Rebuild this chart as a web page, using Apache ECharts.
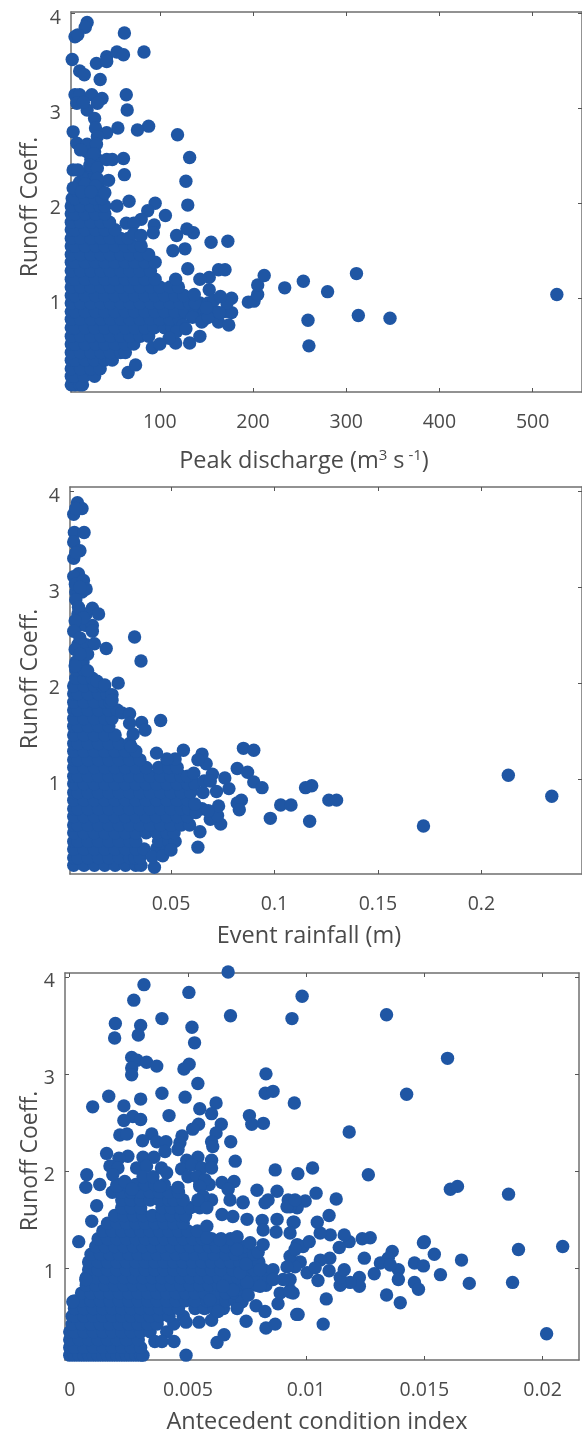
<!DOCTYPE html>
<html><head><meta charset="utf-8">
<style>html,body{margin:0;padding:0;background:#fff}#c{width:582px;height:1431px}</style>
<script src="https://cdn.jsdelivr.net/npm/echarts@6/dist/echarts.min.js"></script>
</head><body><div id="c"></div>
<script>
// Values. Dense cores as [runoff, [x...]] rows, sparse points as [x, runoff].
const peakRows = [
[.09,[5,9,14,17]],[.18,[5,8,19,30]],[.26,[5,15,26,36]],[.35,[5,9,20,30,41,49]],[.43,[5,15,26,37,47,58,63]],
[.52,[5,9,20,31,41,52,63,72]],[.60,[5,15,26,37,47,58,68,79,88]],[.69,[5,9,20,30,41,52,63,73,84,94,105,113]],
[.78,[5,15,26,37,47,58,68,79,90,100,111,121]],[.86,[5,9,20,31,41,52,63,73,84,95,105,116,127,138,148,160,170]],
[.95,[5,15,26,37,47,58,68,79,90,100,111,122,132,143,152]],[1.03,[5,9,20,31,41,52,63,73,84,95,105,116,126]],
[1.12,[5,15,26,37,47,58,68,79,90,100,111,120]],[1.20,[5,9,20,31,41,52,63,73,84,95]],
[1.29,[5,15,26,37,47,58,68,79,90]],[1.38,[5,9,20,31,41,52,63,73,84,95]],[1.46,[5,15,26,37,47,58,68,79,88]],
[1.55,[5,9,20,31,41,52,63,72,80]],[1.63,[5,15,26,37,47,58,66]],[1.72,[5,9,20,31,41,52]],[1.80,[5,15,26,37,46]],
[1.89,[5,9,20,31,41]],[1.97,[5,15,26,36,41]],[2.05,[6,9,20,30,38]],[2.14,[9,20,31,36]],[2.22,[14,25,34]],[2.30,[20,30]],[2.38,[25,32]],[2.46,[26,33]],[2.54,[22,30]]
];
const peakPoints = [
[66,.22],[74,.3],[92,.48],[117,.53],[132,.53],[143,.6],[163,.75],[174,.72],[177,.85],[177,1.0],[195,.96],[201,.97],[205,1.04],[205,1.14],[212,1.24],
[234,1.11],[254,1.18],[280,1.07],[259,.77],[260,.5],[311,1.26],[313,.82],[347,.79],[526,1.04],
[130,1.31],[163,1.3],[170,1.3],[153,1.22],[143,1.2],[153,1.09],[117,1.2],[114,1.5],[127,1.52],[155,1.59],[173,1.6],[136,1.69],[129,1.73],[118,1.66],
[130,1.98],[128,2.23],[132,2.48],[119,2.72],[88,2.81],[76,2.77],[55,2.79],[43,2.74],[65,2.98],[64,3.14],[83,3.59],[62,3.79],[22,3.9],[20,3.85],[9,3.75],[12,3.77],
[6,3.51],[32,3.47],[43,3.54],[43,3.49],[54,3.59],[61,3.56],[14,3.39],[19,3.35],[36,3.3],[9,3.14],[14,3.14],[27,3.14],[38,3.1],[33,3.05],[11,3.05],[22,2.98],[18,3.06],[30,2.89],[31,2.79],[7,2.75],
[33,2.7],[11,2.63],[22,2.62],[32,2.62],[15,2.56],[29,2.52],[25,2.4],[43,2.46],[49,2.46],[61,2.47],[7,2.35],[12,2.35],[33,2.37],[62,2.3],[45,2.24],[33,2.26],[20,2.2],[31,2.18],[7,2.16],[41,2.11],[16,2.12],[26,2.12],
[54,1.97],[67,2.02],[95,2.0],[87,1.92],[106,1.87],[80,1.83],[94,1.77],[93,1.69],[64,1.79],[72,1.79],[72,1.68],[80,1.66],
[138,.95],[148,.78],[158,.98],[135,.8],[145,.75],[152,.8],[125,.72],[118,.65],[110,.58],[100,.52],[172,.95],[165,1.02],[137,1.04],[128,.68],[164,.85],[150,.9]
];
const rainfallRows = [
[.10,[.003,.008,.013,.018,.023,.028,.033,.0355]],[.18,[.003,.005,.010,.015,.020,.025,.030,.0325,.035]],
[.27,[.003,.008,.013,.018,.023,.028,.033,.037,.043,.048]],[.35,[.003,.005,.010,.015,.020,.025,.030,.033,.044,.049,.052]],
[.44,[.003,.008,.013,.018,.023,.028,.033,.038,.043,.048,.0515]],[.52,[.003,.005,.010,.015,.020,.025,.030,.035,.040,.045,.050,.055,.059]],
[.61,[.003,.008,.013,.018,.023,.028,.033,.038,.043,.048,.053,.058]],[.69,[.003,.005,.010,.015,.020,.025,.030,.035,.040,.045,.050,.055,.0585]],
[.78,[.003,.008,.013,.018,.023,.028,.033,.038,.043,.048,.053,.058]],[.86,[.003,.005,.010,.015,.020,.025,.030,.035,.040,.045,.050,.055,.0595]],
[.95,[.003,.008,.013,.018,.023,.028,.033,.038,.043,.048,.053,.058,.0615]],[1.03,[.003,.005,.010,.015,.020,.025,.030,.035,.040,.045,.050,.055,.058]],
[1.12,[.003,.008,.013,.018,.023,.028,.033,.038,.044,.049,.053]],[1.20,[.003,.005,.010,.015,.020,.025,.030,.035]],
[1.29,[.003,.008,.013,.018,.023,.028,.033]],[1.37,[.003,.005,.010,.015,.020,.025,.030]],[1.46,[.003,.008,.013,.018,.023]],
[1.55,[.003,.005,.010,.015,.020]],[1.63,[.003,.008,.013,.018,.0215]],[1.72,[.003,.005,.010,.015,.020,.024]],[1.80,[.003,.008,.013,.018,.0205]],
[1.89,[.003,.005,.010,.015,.019]],[1.97,[.003,.008,.013,.017]],[2.05,[.004,.008,.012]],[2.14,[.004,.008]],[2.22,[.004,.0075]],[2.40,[.005,.009]],[2.60,[.005,.009,.012]],[2.72,[.005,.009]],[2.95,[.004,.007]]
];
const rainfallPoints = [
[.042,.08],[.041,.19],[.046,.2],[.05,.26],[.063,.29],[.064,.45],[.074,.53],[.069,.58],[.0725,.62],[.065,.69],[.073,.72],[.0655,.86],[.072,.87],[.078,.9],[.076,1.01],[.07,1.05],[.067,1.16],[.065,1.26],[.063,1.2],[.056,1.3],[.052,1.21],[.048,1.21],[.043,1.27],
[.085,1.32],[.09,1.3],[.082,1.11],[.087,1.07],[.09,.97],[.094,.91],[.084,.78],[.082,.75],[.083,.68],[.098,.59],[.103,.73],[.108,.73],[.118,.93],[.115,.91],[.117,.56],[.1263,.78],[.13,.78],[.172,.51],[.213,1.04],[.234,.82],
[.066,.98],[.062,.65],[.068,.67],[.0615,.74],[.069,.98],[.061,1.06],
[.0048,3.88],[.007,3.82],[.003,3.76],[.004,3.82],[.0033,3.57],[.008,3.57],[.003,3.47],[.006,3.38],[.003,3.3],[.004,3.36],
[.0053,3.14],[.003,3.11],[.0038,3.03],[.0077,3.07],[.009,2.98],[.006,3.0],[.004,2.87],[.0053,2.79],[.012,2.78],[.015,2.72],[.0077,2.68],[.0037,2.65],[.003,2.54],[.012,2.54],[.006,2.47],[.013,2.41],[.0037,2.35],[.0097,2.3],[.006,2.3],[.0037,2.18],[.0097,2.13],[.0143,2.02],[.018,1.98],[.0245,2.0],[.0355,2.23],[.0324,2.48],[.0187,2.36],[.0215,1.88],[.0215,1.82],[.0262,1.69],[.030,1.68],[.0358,1.59],[.045,1.61],[.0317,1.47],[.0375,1.51],[.03,1.58],[.0307,1.34]
];
const antecedentRows = [
[.10,[0,.0002,.0004,.0006,.0008,.001,.0012,.0014,.0016,.0018,.002,.0022,.0024,.0026,.0028,.003,.0031]],[.18,[0,.0002,.0006,.001,.0014,.0018,.0022,.0026,.003]],
[.26,[0,.0004,.0008,.0012,.0016,.002,.0024,.0029]],[.34,[0,.0002,.0006,.001,.0014,.0018,.0022,.0026,.003,.0034,.0041]],
[.42,[.0001,.0005,.0009,.0013,.0017,.0021,.0025,.0029,.0033,.0037,.0044]],[.50,[.0001,.0002,.0006,.001,.0014,.0018,.0022,.0026,.003,.0034,.0038,.0042,.0048]],
[.58,[.0002,.0006,.001,.0014,.0018,.0022,.0026,.003,.0034,.0038,.0042,.0046,.0053,.0057,.0061,.0065]],[.66,[.0002,.0005,.0009,.0013,.0017,.0021,.0025,.0029,.0033,.0037,.0041,.0045,.0049,.0053,.0058,.0062,.0066,.007]],
[.74,[.0005,.0009,.0013,.0017,.0021,.0025,.0029,.0033,.0037,.0041,.0045,.0049,.0053,.0057,.0062,.0066,.007,.0074]],[.82,[.0007,.0011,.0015,.0019,.0023,.0027,.0031,.0035,.0039,.0043,.0047,.0051,.0055,.0059,.0063,.0067,.0071,.0075,.0079,.0083]],
[.90,[.0007,.0011,.0015,.0019,.0023,.0027,.0031,.0035,.0039,.0043,.0047,.0051,.0055,.0059,.0063,.0067,.0071,.0075,.0079,.0083]],[.98,[.0008,.0012,.0016,.002,.0024,.0028,.0032,.0036,.004,.0044,.0048,.0052,.0056,.006,.0064,.0069,.0074,.0078,.0082]],
[1.06,[.0008,.0012,.0016,.002,.0024,.0028,.0032,.0036,.004,.0044,.0048,.0052,.0056,.006,.0064,.0068,.0072,.0076,.008]],[1.14,[.0009,.0013,.0017,.0021,.0025,.0029,.0033,.0037,.0041,.0045,.0049,.0053,.0057,.0061,.0066,.007,.0074,.0078]],
[1.22,[.0011,.0015,.0019,.0023,.0027,.0031,.0035,.0039,.0043,.0047,.0051,.0055,.0059,.0062,.0066,.007,.0074]],[1.30,[.0012,.0016,.002,.0024,.0028,.0032,.0036,.004,.0044,.0048,.0052,.0056,.006,.0064,.0068]],
[1.38,[.0014,.0018,.0022,.0026,.003,.0034,.0038,.0042,.0046,.005,.0054]],[1.46,[.0016,.002,.0024,.0028,.0032,.0036,.004,.0044,.0048]],
[1.54,[.0019,.0023,.0027,.0031,.0035,.0039,.0043,.0047,.0049]],[1.62,[.0022,.0026,.003,.0039,.0043,.0047,.0051,.0055]],[1.70,[.0022,.0026,.003,.0034,.0038,.0042,.0044,.0048,.0056,.006]],
[1.78,[.0018,.0022,.0026,.003,.0034,.0038,.0042,.0046]],[1.86,[.002,.0024,.0028,.0032,.0036,.004,.0055,.0059]]
];
const antecedentPoints = [
[.0067,4.05],[.00314,3.92],[.00271,3.76],[.00504,3.84],[.0068,3.6],[.0094,3.57],[.00983,3.8],[.00193,3.52],[.0019,3.37],[.003,3.5],[.0029,3.4],[.0039,3.57],[.00517,3.48],[.00528,3.32],
[.00262,3.17],[.00285,3.14],[.00325,3.12],[.00368,3.08],[.00262,3.06],[.00262,2.99],[.00505,3.1],[.00483,3.05],[.0083,3.0],[.00827,2.8],[.0086,2.82],[.0095,2.7],[.00542,2.9],[.0039,2.8],[.00488,2.76],[.00165,2.77],[.003,2.74],[.00229,2.67],[.00097,2.66],
[.00619,2.7],[.0055,2.64],[.006,2.59],[.0042,2.57],[.00267,2.56],[.00229,2.52],[.003,2.53],[.0076,2.57],[.0077,2.48],[.00819,2.49],[.00641,2.48],[.00545,2.48],[.0052,2.43],[.00619,2.39],[.00212,2.37],[.00242,2.38],[.00347,2.38],[.00308,2.31],[.00475,2.36],[.006,2.3],[.00605,2.25],[.00681,2.3],[.00368,2.3],[.00407,2.3],[.00466,2.29],[.00403,2.2],[.00458,2.22],
[.00156,2.18],[.00246,2.15],[.00208,2.13],[.0031,2.14],[.00356,2.14],[.00542,2.14],[.006,2.11],[.00495,2.11],[.007,2.1],[.0017,2.05],[.00204,2.03],[.00283,2.03],[.00325,2.05],[.00388,2.03],[.0041,1.98],[.00473,2.02],[.00516,2.06],[.00558,2.03],[.006,2.03],[.00869,2.01],[.00965,1.97],[.01027,2.03],[.01263,1.96],[.01182,2.4],[.01425,2.79],[.01598,3.16],[.0134,3.61],[.0161,1.81],[.0164,1.84],[.01856,1.76],[.01042,1.77],[.00996,1.69],[.01127,1.71],
[.00072,1.96],[.00068,1.83],[.00127,1.86],[.00182,1.96],[.00199,1.84],[.00233,1.89],[.00263,1.81],[.0031,1.94],[.00352,1.94],[.00381,1.84],[.00458,1.83],[.005,1.94],[.00538,1.94],[.00572,1.91],[.0055,1.84],[.00644,1.88],[.00695,1.89],[.0067,1.81],[.00792,1.8],[.00877,1.79],[.00839,1.7],[.00733,1.68],[.00924,1.7],[.00564,1.74],
[.00114,1.64],[.00093,1.48],[.00038,1.27],[.00068,.88],[.00013,.65],[.00492,.1],[.0036,.24],[.0039,.24],[.00441,.24],[.00623,.23],[.00653,.31],[.00547,.44],[.006,.46],[.00492,.44],[.00746,.45],[.0083,.38],[.00869,.42],[.00788,.61],[.00826,.55],[.00881,.63],[.0096,.52],[.00729,.65],[.00708,.58],[.00627,.55],[.00966,.52],[.01072,.42],[.01085,.68],[.01398,.64],[.0134,.72],[.02017,.32],[.01873,.85],[.0169,.84],[.01568,.93],[.01657,1.08],[.01898,1.19],[.02085,1.22],[.01542,1.14],[.015,1.27],[.01496,1.26],[.01458,1.05],[.01496,1.02],[.01458,.85],[.01475,.78],[.0139,.98],[.0139,.88],[.01364,1.17],[.01347,1.1],[.01314,1.05],[.01356,1.03],[.01288,.94],[.01246,1.1],[.01271,1.31],[.01237,1.3],[.01225,.9],[.01225,.81],[.01186,.85],[.01144,.82],[.01144,.9],[.01161,.98],[.01097,.97],[.0105,.87],[.01004,.95],[.011,1.1],[.0106,1.08],[.01038,1.0],[.01182,1.27],[.01161,1.34],[.0114,1.21],[.01102,1.34],[.01059,1.36],[.01047,1.47],[.01097,1.54],[.00949,1.47],[.00962,1.62],[.00932,1.63],[.00987,1.22],[.01013,1.27],[.00962,1.24],[.00975,1.06],[.00953,1.01],[.00932,1.12],[.00945,.74],[.00932,.77],[.00932,.88],
[.00826,1.67],[.00919,1.63],[.00953,1.7],[.00733,1.67],[.00644,1.55],[.0058,1.43],[.00542,1.7],[.0058,1.62],[.00678,1.7],[.0069,1.53],[.0075,1.5],[.00814,1.49],[.00877,1.5],[.00945,1.47],[.00932,1.36],[.00873,1.37],[.00818,1.39],[.00708,1.32],[.00797,1.16],[.00818,1.24],[.00763,1.26],[.00708,1.19],[.00636,1.29],[.0058,1.31],[.0086,.98],[.00919,1.01],[.00953,1.19],[.00903,.88],[.0089,.74],[.00932,.75],[.00805,.81],[.00805,.98],[.0086,.88],[.0075,.85],[.0069,.77],[.00648,.81],[.00593,.67],[.0072,.95],[.00745,1.04],[.00755,.72]
];
const peakTicks = [100,200,300,400,500];
const rainfallTicks = [0.05,0.1,0.15,0.2];
const antecedentTicks = [0,0.005,0.01,0.015,0.02];
const runoffTicks = [1,2,3,4];
const flatten = (rows, pts) => rows.flatMap(r => r[1].map(x => [x, r[0]])).concat(pts);

const ink = '#4a4a4a', font = 'Open Sans', blue = '#1F56A4';
const panels = [
 {data:flatten(peakRows,peakPoints), ticks:peakTicks, xmin:4.7, xmax:553, ymin:.015, ymax:4.01, left:71, top:12, w:512, h:380,
  name:'{a|Peak discharge (m}{s|3}{a| s}{s| -1}{a|)}', nx:299, ny:443, lx:30, ly:207},
 {data:flatten(rainfallRows,rainfallPoints), ticks:rainfallTicks, xmin:.0012, xmax:.2486, ymin:.01, ymax:4.044, left:70, top:487, w:513, h:387,
  name:'{a|Event rainfall (m)}', nx:304, ny:919, lx:30, ly:679},
 {data:flatten(antecedentRows,antecedentPoints), ticks:antecedentTicks, xmin:-.0002, xmax:.02154, ymin:.05, ymax:4.04, left:65, top:973, w:514, h:387,
  name:'{a|Antecedent condition index}', nx:312, ny:1405, lx:30, ly:1161}
];
const grid=[],xAxis=[],yAxis=[],series=[],title=[],graphic=[];
const line={show:true,onZero:false,lineStyle:{color:'#6f6f6f',width:1.5}};
const label={color:ink,fontFamily:font,fontSize:19.5};
panels.forEach((p,i)=>{
  grid.push({left:p.left,top:p.top,width:p.w,height:p.h});
  [['bottom',true],['top',false]].forEach(([pos,lab])=>xAxis.push({type:'value',gridIndex:i,position:pos,min:p.xmin,max:p.xmax,splitLine:{show:false},axisLine:line,
    axisTick:{show:true,inside:true,length:4,customValues:p.ticks,lineStyle:{color:'#555',width:1}},
    axisLabel:lab?{...label,show:true,margin:20,customValues:p.ticks,formatter:v=>String(v)}:{show:false}}));
  [['left',true],['right',false]].forEach(([pos,lab])=>yAxis.push({type:'value',gridIndex:i,position:pos,min:p.ymin,max:p.ymax,splitLine:{show:false},axisLine:line,
    axisTick:{show:true,inside:true,length:4,customValues:runoffTicks,lineStyle:{color:'#555',width:1}},
    axisLabel:lab?{show:true,margin:10,customValues:runoffTicks,formatter:v=>`{n|${v}}`,rich:{n:{...label,padding:[10,0,0,0]}}}:{show:false}}));
  series.push({type:'scatter',xAxisIndex:2*i,yAxisIndex:2*i,data:p.data,symbol:'circle',symbolSize:13.4,clip:false,itemStyle:{color:blue,opacity:1},silent:true,animation:false});
  title.push({text:p.name,left:p.nx,top:p.ny,textAlign:'center',textStyle:{rich:{a:{color:ink,fontFamily:font,fontSize:23.5,fontWeight:'normal'},s:{color:ink,fontFamily:font,fontSize:15,fontWeight:'normal',verticalAlign:'top',padding:[0,0,12,0]}}}});
  graphic.push({type:'text',x:p.lx,y:p.ly,rotation:Math.PI/2,style:{text:'Runoff Coeff.',fill:ink,font:'23px "Open Sans"',align:'center',verticalAlign:'middle'}});
});
const chart=echarts.init(document.getElementById('c'),null,{renderer:'canvas'});
chart.setOption({animation:false,backgroundColor:'#fff',grid,xAxis,yAxis,series,title,graphic,tooltip:{show:false}});
</script></body></html>
